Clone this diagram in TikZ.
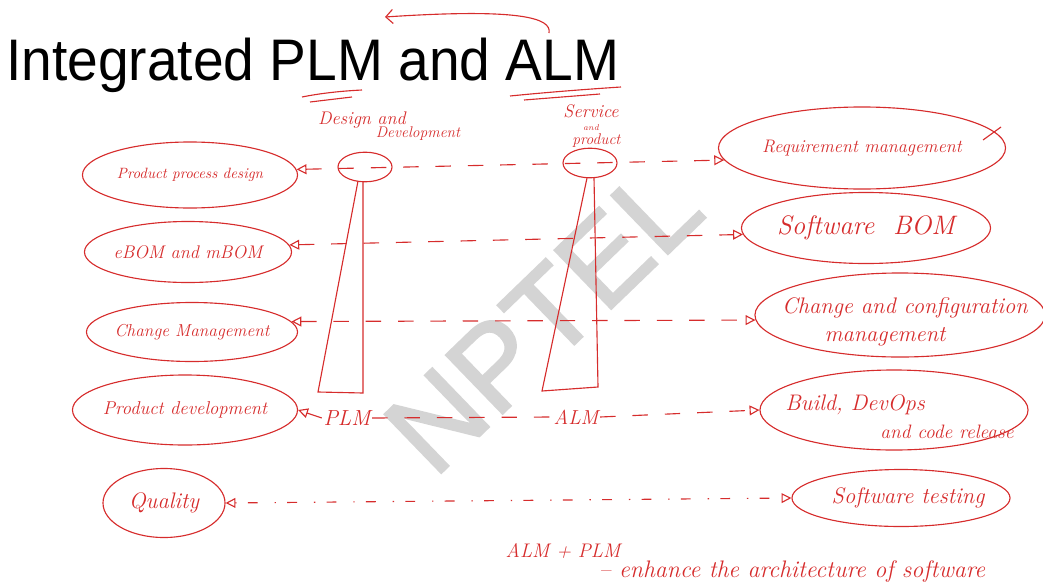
\documentclass[tikz,border=0pt]{standalone}
\usepackage{fontspec}
\newfontfamily\titlefont[FakeStretch=0.94]{Liberation Sans}
\newfontfamily\markfont[FakeBold=2]{Liberation Sans}
\usetikzlibrary{shapes.geometric,arrows.meta}
\definecolor{pen}{RGB}{214,44,44}
\definecolor{mark}{RGB}{212,212,212}
\newcommand\penfont[1]{\itshape\fontsize{#1}{#1}\selectfont}
\tikzset{
  ink/.style={draw=pen, line width=0.8pt},
  topic/.style={ink, ellipse, inner sep=0pt},
  head/.style={ink, ellipse, inner sep=0pt, minimum width=1.35cm, minimum height=0.74cm},
  hand/.style={text=pen, inner sep=1pt},
  link/.style={ink, dash pattern=on 11pt off 12pt, {Triangle[open,length=7pt,width=7pt]}-{Triangle[open,length=7pt,width=7pt]}}
}
\begin{document}
\begin{tikzpicture}[x=0.025cm,y=-0.025cm]
  \useasboundingbox (0,0) rectangle (1043,585);
  % watermark
  \node[rotate=44, text=mark, font=\markfont\fontsize{84}{84}\selectfont] (wm) at (543,318) {NPTEL};
  % title
  \node[anchor=base west, inner sep=0pt, font=\titlefont\fontsize{41.7}{42}\selectfont] (title) at (6,80) {Integrated PLM and ALM};
  \draw[ink] (302,97) .. controls (322,93) and (342,91) .. (362,90);
  \draw[ink] (310,102) -- (352,97);
  \draw[ink] (510,96) .. controls (550,92) and (590,89) .. (621,87);
  \draw[ink] (524,100) -- (600,94);
  \draw[ink, -{Straight Barb[length=5pt]}] (549,33) .. controls (552,18) and (520,8) .. (385,17);
  % PLM side
  \node[topic, minimum width=5.375cm, minimum height=1.65cm] (pdes) at (190,175) {};
  \node[topic, minimum width=5.175cm, minimum height=1.525cm] (bom) at (188,252) {};
  \node[topic, minimum width=5.275cm, minimum height=1.475cm] (chg) at (192,332) {};
  \node[topic, minimum width=5.625cm, minimum height=1.75cm] (pdev) at (185,410) {};
  \node[topic, minimum width=3.05cm, minimum height=1.725cm] (qual) at (164,503) {};
  \node[hand, font=\penfont{10.6}] at (pdes) {Product process design};
  \node[hand, font=\penfont{13}] at (bom) {eBOM and mBOM};
  \node[hand, font=\penfont{12.3}] at (chg) {Change Management};
  \node[hand, font=\penfont{13.2}] at (pdev) {Product development};
  \node[hand, font=\penfont{16}] at (qual) {Quality};
  % ALM side
  \node[topic, minimum width=7.175cm, minimum height=2.05cm] (req) at (862,148) {};
  \node[topic, minimum width=6.225cm, minimum height=1.775cm] (sbom) at (866,228) {};
  \node[topic, minimum width=7.25cm, minimum height=2.1cm] (cfg) at (900,315) {};
  \node[topic, minimum width=6.7cm, minimum height=2.0cm] (build) at (894,410) {};
  \node[topic, minimum width=5.45cm, minimum height=1.425cm] (stest) at (901,498) {};
  \node[hand, font=\penfont{12.9}] at (req) {Requirement management};
  \node[hand, font=\penfont{19}] at (sbom) {Software \ BOM};
  \node[hand, font=\penfont{16}] at (905,308) {Change and configuration};
  \node[hand, font=\penfont{16}] at (885,337) {management};
  \node[hand, font=\penfont{16}] at (855,405) {Build, DevOps};
  \node[hand, font=\penfont{13.8}] at (947,432) {and code release};
  \node[hand, font=\penfont{16}] at (908,498) {Software testing};
  \draw[ink] (983,140) -- (1001,127);
  % the two stacks
  \node[head] (plmhead) at (365,167) {};
  \node[head] (almhead) at (590,163) {};
  \draw[ink] (358,181) -- (318,392) -- (363,393) -- (363,181);
  \draw[ink] (587,178) -- (542,391) -- (598,387) -- (594,178);
  \node[hand, font=\penfont{13}] at (362,120) {Design and};
  \node[hand, font=\penfont{11}] at (418,134) {Development};
  \node[hand, align=center, font=\penfont{13}] at (591,126)
    {Service\\[-4pt]{\fontsize{6}{6}\selectfont and}\\[-3pt]{\fontsize{11}{11}\selectfont\ \ product}};
  \node[hand, font=\penfont{15.5}] (plm) at (347,418) {PLM};
  \node[hand, font=\penfont{14.4}] (alm) at (576,417) {ALM};
  % links
  \draw[link] (pdes.3) -- (req.185);
  \draw[link] (bom.4) -- (sbom.183);
  \draw[link] (chg.6) -- (cfg.182);
  \draw[ink, dash pattern=on 11pt off 12pt, {Triangle[open,length=7pt,width=7pt]}-] (pdev.east) -- (plm.west);
  \draw[ink, dash pattern=on 11pt off 12pt] (plm.east) -- (alm.west);
  \draw[ink, dash pattern=on 11pt off 12pt, -{Triangle[open,length=7pt,width=7pt]}] (alm.east) -- (build.west);
  \draw[link, dash pattern=on 1pt off 8pt on 7pt off 12pt] (qual.east) -- (stest.west);
  % note
  \node[hand, font=\penfont{14}] (note) at (563,551) {ALM + PLM};
  \node[hand, font=\penfont{17}] at (792,572) {-- enhance the architecture of software};
\end{tikzpicture}
\end{document}
